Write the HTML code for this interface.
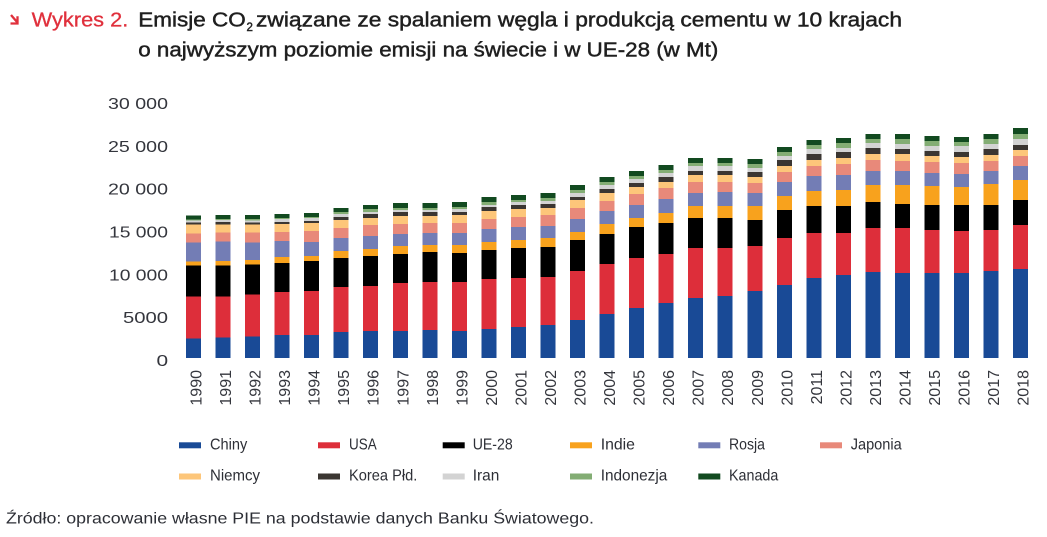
<!DOCTYPE html>
<html><head><meta charset="utf-8"><style>
html,body{margin:0;padding:0;background:#fff;}
svg{display:block;}
text{font-family:"Liberation Sans","DejaVu Sans",sans-serif;}
.a{fill:#194a96}.b{fill:#dd2e3a}.c{fill:#000}.d{fill:#f8a21d}.e{fill:#737db5}.f{fill:#e8897a}.g{fill:#fdc67a}.h{fill:#3b3632}.i{fill:#d3d3d3}.j{fill:#83ad74}.k{fill:#124a20}
.yl{font-size:15.5px;fill:#34363d}
.xl{font-size:16px;fill:#34363d}
.lg{font-size:16px;fill:#2d2f36}
</style></head><body>
<svg width="1047" height="537" viewBox="0 0 1047 537" xmlns="http://www.w3.org/2000/svg">
<rect width="1047" height="537" fill="#fff"/>
<!-- Title -->
<path d="M11 15 L17 22 M17.5 16.2 L17.5 23.5 L10.5 23.5" stroke="#e0303c" stroke-width="2.3" fill="none"/>
<text x="31.7" y="26.5" font-size="20" fill="#e0303c" stroke="#e0303c" stroke-width="0.3" textLength="96.6" lengthAdjust="spacingAndGlyphs">Wykres 2.</text>
<g fill="#1f1f1f" stroke="#1f1f1f" stroke-width="0.45">
<text x="138.3" y="26.5" font-size="20" textLength="107.5" lengthAdjust="spacingAndGlyphs">Emisje CO</text>
<text x="246.5" y="31" font-size="11.5">2</text>
<text x="256" y="26.5" font-size="20" textLength="646" lengthAdjust="spacingAndGlyphs">związane ze spalaniem węgla i produkcją cementu w 10 krajach</text>
<text x="138.3" y="56.5" font-size="20" textLength="580" lengthAdjust="spacingAndGlyphs">o najwyższym poziomie emisji na świecie i w UE-28 (w Mt)</text>
</g>
<!-- Y axis labels -->
<text class="yl" x="108" y="108.9" textLength="60" lengthAdjust="spacingAndGlyphs">30 000</text>
<text class="yl" x="108" y="151.8" textLength="60" lengthAdjust="spacingAndGlyphs">25 000</text>
<text class="yl" x="108" y="194.6" textLength="60" lengthAdjust="spacingAndGlyphs">20 000</text>
<text class="yl" x="109" y="237.5" textLength="59" lengthAdjust="spacingAndGlyphs">15 000</text>
<text class="yl" x="109" y="280.3" textLength="59" lengthAdjust="spacingAndGlyphs">10 000</text>
<text class="yl" x="123" y="323.2" textLength="45" lengthAdjust="spacingAndGlyphs">5000</text>
<text class="yl" x="156.5" y="366" textLength="11.6" lengthAdjust="spacingAndGlyphs">0</text>
<!-- Bars -->
<g shape-rendering="crispEdges">
<g transform="translate(186,0)"><rect class="a" width="15" y="338.7" height="19.3"/><rect class="b" width="15" y="296.7" height="42"/><rect class="c" width="15" y="265.7" height="31"/><rect class="d" width="15" y="261.7" height="4"/><rect class="e" width="15" y="242.7" height="19"/><rect class="f" width="15" y="233.7" height="9"/><rect class="g" width="15" y="224.7" height="9"/><rect class="h" width="15" y="222.7" height="2"/><rect class="i" width="15" y="220.7" height="2"/><rect class="j" width="15" y="219.7" height="1"/><rect class="k" width="15" y="215.7" height="4"/></g>
<g transform="translate(215.5,0)"><rect class="a" width="15" y="337.7" height="20.3"/><rect class="b" width="15" y="296.7" height="41"/><rect class="c" width="15" y="265.7" height="31"/><rect class="d" width="15" y="261" height="4.7"/><rect class="e" width="15" y="241.7" height="19.3"/><rect class="f" width="15" y="232.7" height="9"/><rect class="g" width="15" y="224.7" height="8"/><rect class="h" width="15" y="222" height="2.7"/><rect class="i" width="15" y="220" height="2"/><rect class="j" width="15" y="219" height="1"/><rect class="k" width="15" y="215" height="4"/></g>
<g transform="translate(245,0)"><rect class="a" width="15" y="336.7" height="21.3"/><rect class="b" width="15" y="294.7" height="42"/><rect class="c" width="15" y="264.7" height="30"/><rect class="d" width="15" y="260" height="4.7"/><rect class="e" width="15" y="242.7" height="17.3"/><rect class="f" width="15" y="232.7" height="10"/><rect class="g" width="15" y="224.7" height="8"/><rect class="h" width="15" y="222.7" height="2"/><rect class="i" width="15" y="220.7" height="2"/><rect class="j" width="15" y="219" height="1.7"/><rect class="k" width="15" y="215" height="4"/></g>
<g transform="translate(274.6,0)"><rect class="a" width="15" y="335" height="23"/><rect class="b" width="15" y="292" height="43"/><rect class="c" width="15" y="263" height="29"/><rect class="d" width="15" y="257" height="6"/><rect class="e" width="15" y="241" height="16"/><rect class="f" width="15" y="232" height="9"/><rect class="g" width="15" y="224" height="8"/><rect class="h" width="15" y="222" height="2"/><rect class="i" width="15" y="219" height="3"/><rect class="j" width="15" y="218" height="1"/><rect class="k" width="15" y="214" height="4"/></g>
<g transform="translate(304.2,0)"><rect class="a" width="15" y="335" height="23"/><rect class="b" width="15" y="291" height="44"/><rect class="c" width="15" y="261" height="30"/><rect class="d" width="15" y="256" height="5"/><rect class="e" width="15" y="242" height="14"/><rect class="f" width="15" y="231" height="11"/><rect class="g" width="15" y="223" height="8"/><rect class="h" width="15" y="221" height="2"/><rect class="i" width="15" y="218" height="3"/><rect class="j" width="15" y="217" height="1"/><rect class="k" width="15" y="213" height="4"/></g>
<g transform="translate(333.7,0)"><rect class="a" width="15" y="332" height="26"/><rect class="b" width="15" y="287" height="45"/><rect class="c" width="15" y="258" height="29"/><rect class="d" width="15" y="251" height="7"/><rect class="e" width="15" y="238" height="13"/><rect class="f" width="15" y="228" height="10"/><rect class="g" width="15" y="220" height="8"/><rect class="h" width="15" y="217" height="3"/><rect class="i" width="15" y="214" height="3"/><rect class="j" width="15" y="212" height="2"/><rect class="k" width="15" y="208" height="4"/></g>
<g transform="translate(363.2,0)"><rect class="a" width="15" y="331" height="27"/><rect class="b" width="15" y="286" height="45"/><rect class="c" width="15" y="256" height="30"/><rect class="d" width="15" y="249" height="7"/><rect class="e" width="15" y="236" height="13"/><rect class="f" width="15" y="225" height="11"/><rect class="g" width="15" y="218" height="7"/><rect class="h" width="15" y="214" height="4"/><rect class="i" width="15" y="212" height="2"/><rect class="j" width="15" y="209" height="3"/><rect class="k" width="15" y="205" height="4"/></g>
<g transform="translate(392.8,0)"><rect class="a" width="15" y="331" height="27"/><rect class="b" width="15" y="283" height="48"/><rect class="c" width="15" y="254" height="29"/><rect class="d" width="15" y="246" height="8"/><rect class="e" width="15" y="234" height="12"/><rect class="f" width="15" y="224" height="10"/><rect class="g" width="15" y="216" height="8"/><rect class="h" width="15" y="212" height="4"/><rect class="i" width="15" y="210" height="2"/><rect class="j" width="15" y="208" height="2"/><rect class="k" width="15" y="203" height="5"/></g>
<g transform="translate(422.3,0)"><rect class="a" width="15" y="330" height="28"/><rect class="b" width="15" y="282" height="48"/><rect class="c" width="15" y="252" height="30"/><rect class="d" width="15" y="245" height="7"/><rect class="e" width="15" y="233" height="12"/><rect class="f" width="15" y="223" height="10"/><rect class="g" width="15" y="216" height="7"/><rect class="h" width="15" y="212" height="4"/><rect class="i" width="15" y="210" height="2"/><rect class="j" width="15" y="208" height="2"/><rect class="k" width="15" y="203" height="5"/></g>
<g transform="translate(451.9,0)"><rect class="a" width="15" y="331" height="27"/><rect class="b" width="15" y="282" height="49"/><rect class="c" width="15" y="253" height="29"/><rect class="d" width="15" y="245" height="8"/><rect class="e" width="15" y="233" height="12"/><rect class="f" width="15" y="223" height="10"/><rect class="g" width="15" y="215" height="8"/><rect class="h" width="15" y="212" height="3"/><rect class="i" width="15" y="209" height="3"/><rect class="j" width="15" y="207" height="2"/><rect class="k" width="15" y="202" height="5"/></g>
<g transform="translate(481.4,0)"><rect class="a" width="15" y="329" height="29"/><rect class="b" width="15" y="279" height="50"/><rect class="c" width="15" y="250" height="29"/><rect class="d" width="15" y="242" height="8"/><rect class="e" width="15" y="229" height="13"/><rect class="f" width="15" y="219" height="10"/><rect class="g" width="15" y="211" height="8"/><rect class="h" width="15" y="207" height="4"/><rect class="i" width="15" y="205" height="2"/><rect class="j" width="15" y="202" height="3"/><rect class="k" width="15" y="197" height="5"/></g>
<g transform="translate(510.9,0)"><rect class="a" width="15" y="327" height="31"/><rect class="b" width="15" y="278" height="49"/><rect class="c" width="15" y="248" height="30"/><rect class="d" width="15" y="240" height="8"/><rect class="e" width="15" y="227" height="13"/><rect class="f" width="15" y="217" height="10"/><rect class="g" width="15" y="209" height="8"/><rect class="h" width="15" y="205" height="4"/><rect class="i" width="15" y="202" height="3"/><rect class="j" width="15" y="200" height="2"/><rect class="k" width="15" y="195" height="5"/></g>
<g transform="translate(540.5,0)"><rect class="a" width="15" y="325" height="33"/><rect class="b" width="15" y="277" height="48"/><rect class="c" width="15" y="247" height="30"/><rect class="d" width="15" y="238" height="9"/><rect class="e" width="15" y="226" height="12"/><rect class="f" width="15" y="215" height="11"/><rect class="g" width="15" y="208" height="7"/><rect class="h" width="15" y="204" height="4"/><rect class="i" width="15" y="201" height="3"/><rect class="j" width="15" y="198" height="3"/><rect class="k" width="15" y="193" height="5"/></g>
<g transform="translate(570,0)"><rect class="a" width="15" y="320" height="38"/><rect class="b" width="15" y="271" height="49"/><rect class="c" width="15" y="240" height="31"/><rect class="d" width="15" y="232" height="8"/><rect class="e" width="15" y="219" height="13"/><rect class="f" width="15" y="208" height="11"/><rect class="g" width="15" y="200" height="8"/><rect class="h" width="15" y="197" height="3"/><rect class="i" width="15" y="193" height="4"/><rect class="j" width="15" y="190" height="3"/><rect class="k" width="15" y="185" height="5"/></g>
<g transform="translate(599.6,0)"><rect class="a" width="15" y="314" height="44"/><rect class="b" width="15" y="264" height="50"/><rect class="c" width="15" y="234" height="30"/><rect class="d" width="15" y="224" height="10"/><rect class="e" width="15" y="211" height="13"/><rect class="f" width="15" y="201" height="10"/><rect class="g" width="15" y="193" height="8"/><rect class="h" width="15" y="189" height="4"/><rect class="i" width="15" y="185" height="4"/><rect class="j" width="15" y="182" height="3"/><rect class="k" width="15" y="177" height="5"/></g>
<g transform="translate(629.1,0)"><rect class="a" width="15" y="308" height="50"/><rect class="b" width="15" y="258" height="50"/><rect class="c" width="15" y="227" height="31"/><rect class="d" width="15" y="218" height="9"/><rect class="e" width="15" y="205" height="13"/><rect class="f" width="15" y="194" height="11"/><rect class="g" width="15" y="187" height="7"/><rect class="h" width="15" y="183" height="4"/><rect class="i" width="15" y="179" height="4"/><rect class="j" width="15" y="176" height="3"/><rect class="k" width="15" y="171" height="5"/></g>
<g transform="translate(658.6,0)"><rect class="a" width="15" y="303" height="55"/><rect class="b" width="15" y="254" height="49"/><rect class="c" width="15" y="223" height="31"/><rect class="d" width="15" y="213" height="10"/><rect class="e" width="15" y="199" height="14"/><rect class="f" width="15" y="188" height="11"/><rect class="g" width="15" y="182" height="6"/><rect class="h" width="15" y="177" height="5"/><rect class="i" width="15" y="173" height="4"/><rect class="j" width="15" y="170" height="3"/><rect class="k" width="15" y="165" height="5"/></g>
<g transform="translate(688.2,0)"><rect class="a" width="15" y="298" height="60"/><rect class="b" width="15" y="248" height="50"/><rect class="c" width="15" y="218" height="30"/><rect class="d" width="15" y="206" height="12"/><rect class="e" width="15" y="193" height="13"/><rect class="f" width="15" y="182" height="11"/><rect class="g" width="15" y="175" height="7"/><rect class="h" width="15" y="171" height="4"/><rect class="i" width="15" y="166" height="5"/><rect class="j" width="15" y="163" height="3"/><rect class="k" width="15" y="158" height="5"/></g>
<g transform="translate(717.7,0)"><rect class="a" width="15" y="296" height="62"/><rect class="b" width="15" y="248" height="48"/><rect class="c" width="15" y="218" height="30"/><rect class="d" width="15" y="206" height="12"/><rect class="e" width="15" y="192" height="14"/><rect class="f" width="15" y="182" height="10"/><rect class="g" width="15" y="175" height="7"/><rect class="h" width="15" y="171" height="4"/><rect class="i" width="15" y="166" height="5"/><rect class="j" width="15" y="163" height="3"/><rect class="k" width="15" y="158" height="5"/></g>
<g transform="translate(747.3,0)"><rect class="a" width="15" y="291" height="67"/><rect class="b" width="15" y="246" height="45"/><rect class="c" width="15" y="220" height="26"/><rect class="d" width="15" y="206" height="14"/><rect class="e" width="15" y="193" height="13"/><rect class="f" width="15" y="183" height="10"/><rect class="g" width="15" y="177" height="6"/><rect class="h" width="15" y="172" height="5"/><rect class="i" width="15" y="168" height="4"/><rect class="j" width="15" y="164" height="4"/><rect class="k" width="15" y="159" height="5"/></g>
<g transform="translate(776.8,0)"><rect class="a" width="15" y="285" height="73"/><rect class="b" width="15" y="238" height="47"/><rect class="c" width="15" y="210" height="28"/><rect class="d" width="15" y="196" height="14"/><rect class="e" width="15" y="182" height="14"/><rect class="f" width="15" y="172" height="10"/><rect class="g" width="15" y="166" height="6"/><rect class="h" width="15" y="160" height="6"/><rect class="i" width="15" y="156" height="4"/><rect class="j" width="15" y="152" height="4"/><rect class="k" width="15" y="147" height="5"/></g>
<g transform="translate(806.3,0)"><rect class="a" width="15" y="278" height="80"/><rect class="b" width="15" y="233" height="45"/><rect class="c" width="15" y="206" height="27"/><rect class="d" width="15" y="191" height="15"/><rect class="e" width="15" y="176" height="15"/><rect class="f" width="15" y="166" height="10"/><rect class="g" width="15" y="160" height="6"/><rect class="h" width="15" y="154" height="6"/><rect class="i" width="15" y="149" height="5"/><rect class="j" width="15" y="145" height="4"/><rect class="k" width="15" y="140" height="5"/></g>
<g transform="translate(835.9,0)"><rect class="a" width="15" y="275" height="83"/><rect class="b" width="15" y="233" height="42"/><rect class="c" width="15" y="206" height="27"/><rect class="d" width="15" y="190" height="16"/><rect class="e" width="15" y="175" height="15"/><rect class="f" width="15" y="164" height="11"/><rect class="g" width="15" y="158" height="6"/><rect class="h" width="15" y="152" height="6"/><rect class="i" width="15" y="148" height="4"/><rect class="j" width="15" y="143" height="5"/><rect class="k" width="15" y="138" height="5"/></g>
<g transform="translate(865.4,0)"><rect class="a" width="15" y="272" height="86"/><rect class="b" width="15" y="228" height="44"/><rect class="c" width="15" y="202" height="26"/><rect class="d" width="15" y="185" height="17"/><rect class="e" width="15" y="171" height="14"/><rect class="f" width="15" y="160" height="11"/><rect class="g" width="15" y="154" height="6"/><rect class="h" width="15" y="148" height="6"/><rect class="i" width="15" y="143" height="5"/><rect class="j" width="15" y="139" height="4"/><rect class="k" width="15" y="134" height="5"/></g>
<g transform="translate(895,0)"><rect class="a" width="15" y="273" height="85"/><rect class="b" width="15" y="228" height="45"/><rect class="c" width="15" y="204" height="24"/><rect class="d" width="15" y="185" height="19"/><rect class="e" width="15" y="171" height="14"/><rect class="f" width="15" y="161" height="10"/><rect class="g" width="15" y="154" height="7"/><rect class="h" width="15" y="149" height="5"/><rect class="i" width="15" y="144" height="5"/><rect class="j" width="15" y="139" height="5"/><rect class="k" width="15" y="134" height="5"/></g>
<g transform="translate(924.5,0)"><rect class="a" width="15" y="273" height="85"/><rect class="b" width="15" y="230" height="43"/><rect class="c" width="15" y="205" height="25"/><rect class="d" width="15" y="186" height="19"/><rect class="e" width="15" y="173" height="13"/><rect class="f" width="15" y="162" height="11"/><rect class="g" width="15" y="156" height="6"/><rect class="h" width="15" y="151" height="5"/><rect class="i" width="15" y="146" height="5"/><rect class="j" width="15" y="141" height="5"/><rect class="k" width="15" y="136" height="5"/></g>
<g transform="translate(954,0)"><rect class="a" width="15" y="273" height="85"/><rect class="b" width="15" y="231" height="42"/><rect class="c" width="15" y="205" height="26"/><rect class="d" width="15" y="187" height="18"/><rect class="e" width="15" y="174" height="13"/><rect class="f" width="15" y="163" height="11"/><rect class="g" width="15" y="157" height="6"/><rect class="h" width="15" y="152" height="5"/><rect class="i" width="15" y="146" height="6"/><rect class="j" width="15" y="142" height="4"/><rect class="k" width="15" y="137" height="5"/></g>
<g transform="translate(983.6,0)"><rect class="a" width="15" y="271" height="87"/><rect class="b" width="15" y="230" height="41"/><rect class="c" width="15" y="205" height="25"/><rect class="d" width="15" y="184" height="21"/><rect class="e" width="15" y="171" height="13"/><rect class="f" width="15" y="161" height="10"/><rect class="g" width="15" y="155" height="6"/><rect class="h" width="15" y="149" height="6"/><rect class="i" width="15" y="144" height="5"/><rect class="j" width="15" y="139" height="5"/><rect class="k" width="15" y="134" height="5"/></g>
<g transform="translate(1013.1,0)"><rect class="a" width="15" y="269" height="89"/><rect class="b" width="15" y="225" height="44"/><rect class="c" width="15" y="200" height="25"/><rect class="d" width="15" y="180" height="20"/><rect class="e" width="15" y="166" height="14"/><rect class="f" width="15" y="156" height="10"/><rect class="g" width="15" y="150" height="6"/><rect class="h" width="15" y="145" height="5"/><rect class="i" width="15" y="139" height="6"/><rect class="j" width="15" y="134" height="5"/><rect class="k" width="15" y="128" height="6"/></g>
</g>
<!-- X labels -->
<g class="xl" text-anchor="end">
<text transform="translate(201.5,370) rotate(-90)">1990</text>
<text transform="translate(231,370) rotate(-90)">1991</text>
<text transform="translate(260.5,370) rotate(-90)">1992</text>
<text transform="translate(290.1,370) rotate(-90)">1993</text>
<text transform="translate(319.7,370) rotate(-90)">1994</text>
<text transform="translate(349.2,370) rotate(-90)">1995</text>
<text transform="translate(378.7,370) rotate(-90)">1996</text>
<text transform="translate(408.3,370) rotate(-90)">1997</text>
<text transform="translate(437.8,370) rotate(-90)">1998</text>
<text transform="translate(467.4,370) rotate(-90)">1999</text>
<text transform="translate(496.9,370) rotate(-90)">2000</text>
<text transform="translate(526.4,370) rotate(-90)">2001</text>
<text transform="translate(556,370) rotate(-90)">2002</text>
<text transform="translate(585.5,370) rotate(-90)">2003</text>
<text transform="translate(615.1,370) rotate(-90)">2004</text>
<text transform="translate(644.6,370) rotate(-90)">2005</text>
<text transform="translate(674.1,370) rotate(-90)">2006</text>
<text transform="translate(703.7,370) rotate(-90)">2007</text>
<text transform="translate(733.2,370) rotate(-90)">2008</text>
<text transform="translate(762.8,370) rotate(-90)">2009</text>
<text transform="translate(792.3,370) rotate(-90)">2010</text>
<text transform="translate(821.8,370) rotate(-90)">2011</text>
<text transform="translate(851.4,370) rotate(-90)">2012</text>
<text transform="translate(880.9,370) rotate(-90)">2013</text>
<text transform="translate(910.5,370) rotate(-90)">2014</text>
<text transform="translate(940,370) rotate(-90)">2015</text>
<text transform="translate(969.5,370) rotate(-90)">2016</text>
<text transform="translate(999.1,370) rotate(-90)">2017</text>
<text transform="translate(1028.6,370) rotate(-90)">2018</text>
</g>
<!-- Legend -->
<rect class="a" x="179" y="442.3" width="22" height="6"/>
<text class="lg" x="210" y="449.3" textLength="37.3" lengthAdjust="spacingAndGlyphs">Chiny</text>
<rect class="b" x="318" y="442.3" width="22" height="6"/>
<text class="lg" x="349" y="449.3" textLength="27.7" lengthAdjust="spacingAndGlyphs">USA</text>
<rect class="c" x="442.7" y="442.3" width="22" height="6"/>
<text class="lg" x="472.7" y="449.3" textLength="40" lengthAdjust="spacingAndGlyphs">UE-28</text>
<rect class="d" x="570" y="442.3" width="22" height="6"/>
<text class="lg" x="600.7" y="449.3" textLength="34.3" lengthAdjust="spacingAndGlyphs">Indie</text>
<rect class="e" x="698.3" y="442.3" width="22" height="6"/>
<text class="lg" x="729" y="449.3" textLength="36" lengthAdjust="spacingAndGlyphs">Rosja</text>
<rect class="f" x="820" y="442.3" width="22" height="6"/>
<text class="lg" x="850.7" y="449.3" textLength="51" lengthAdjust="spacingAndGlyphs">Japonia</text>
<rect class="g" x="179" y="473.5" width="22" height="6"/>
<text class="lg" x="210" y="480.3" textLength="50" lengthAdjust="spacingAndGlyphs">Niemcy</text>
<rect class="h" x="318" y="473.5" width="22" height="6"/>
<text class="lg" x="349" y="480.3" textLength="68.3" lengthAdjust="spacingAndGlyphs">Korea Płd.</text>
<rect class="i" x="442.7" y="473.5" width="22" height="6"/>
<text class="lg" x="472.7" y="480.3" textLength="26.6" lengthAdjust="spacingAndGlyphs">Iran</text>
<rect class="j" x="570" y="473.5" width="22" height="6"/>
<text class="lg" x="600.7" y="480.3" textLength="66.6" lengthAdjust="spacingAndGlyphs">Indonezja</text>
<rect class="k" x="698.3" y="473.5" width="22" height="6"/>
<text class="lg" x="729" y="480.3" textLength="49.3" lengthAdjust="spacingAndGlyphs">Kanada</text>
<!-- Source -->
<text x="6" y="523.5" font-size="16" fill="#2d2f36" textLength="588" lengthAdjust="spacingAndGlyphs">Źródło: opracowanie własne PIE na podstawie danych Banku Światowego.</text>
</svg>
</body></html>
